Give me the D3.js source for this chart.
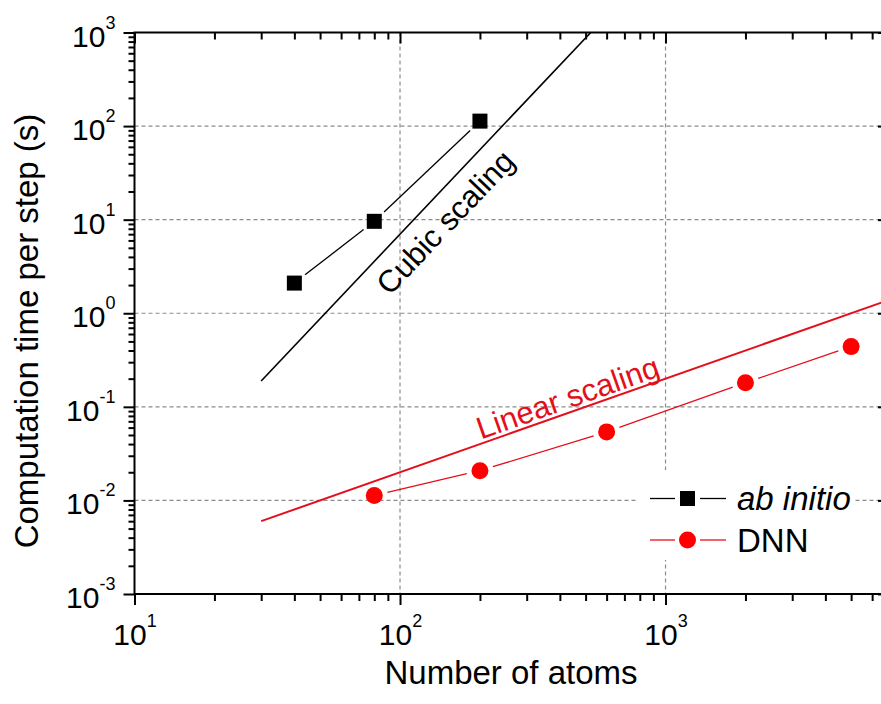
<!DOCTYPE html>
<html>
<head>
<meta charset="utf-8">
<script src="https://cdn.jsdelivr.net/npm/d3@7"></script>
<style>
  body { margin: 0; background: #fff; }
  svg { display: block; font-family: Arial, "Liberation Sans", sans-serif; }
</style>
</head>
<body>
<div id="chart"></div>
<script>
// data
var abInitioAtoms = [40, 80, 200];
var abInitioTime = [2.1, 9.6, 113];
var dnnAtoms = [80, 200, 600, 2000, 5000];
var dnnTime = [0.0113, 0.0208, 0.054, 0.181, 0.44];

// guide lines (end points)
var cubicAtoms = [30, 523];
var cubicTime = [0.189, 1000];
var linearAtoms = [30, 6650];
var linearTime = [0.006, 1.33];

var xMajor = [10, 100, 1000];
var yMajor = [1e-3, 1e-2, 1e-1, 1, 10, 100, 1000];

var width = 881, height = 704;
var plotLeft = 134.5, plotRight = 884, plotTop = 32.5, plotBottom = 594;

var svg = d3.select("#chart").append("svg")
    .attr("width", width)
    .attr("height", height);

var x = d3.scaleLog().domain([10, 6650]).range([plotLeft, plotRight]);
var y = d3.scaleLog().domain([1e-3, 1e3]).range([plotBottom, plotTop]);

var red = "#ff0000",
    redLine = "#e3101c",
    gridColor = "#8c8c8c";

// minor tick values
function minors(lo, hi) {
    var out = [];
    for (var d = lo; d < hi; d *= 10)
        for (var k = 2; k <= 9; k++)
            if (d * k < hi) out.push(d * k);
    return out;
}
var xMinor = minors(10, 6650);
var yMinor = minors(1e-3, 1e3);

// clip for plot area
svg.append("defs").append("clipPath").attr("id", "plotClip")
    .append("rect")
    .attr("x", plotLeft).attr("y", plotTop)
    .attr("width", plotRight - plotLeft).attr("height", plotBottom - plotTop);

// grid
var grid = svg.append("g");
grid.selectAll("line.gx")
    .data(xMajor.slice(1))
    .enter().append("line")
    .attr("x1", d => x(d)).attr("x2", d => x(d))
    .attr("y1", plotTop).attr("y2", plotBottom)
    .style("stroke", gridColor).style("stroke-width", 1.2)
    .style("stroke-dasharray", "4,3");
grid.selectAll("line.gy")
    .data(yMajor.slice(1, -1))
    .enter().append("line")
    .attr("x1", plotLeft).attr("x2", plotRight)
    .attr("y1", d => y(d)).attr("y2", d => y(d))
    .style("stroke", gridColor).style("stroke-width", 1.2)
    .style("stroke-dasharray", "4,3");

// legend background hides grid
svg.append("rect")
    .attr("x", 637).attr("y", 470)
    .attr("width", 218).attr("height", 90)
    .style("fill", "#fff");

// guide lines
var guide = svg.append("g").attr("clip-path", "url(#plotClip)");
var line = d3.line().x(d => x(d[0])).y(d => y(d[1]));

guide.append("path")
    .datum(d3.zip(cubicAtoms, cubicTime))
    .attr("d", line)
    .style("fill", "none").style("stroke", "#000").style("stroke-width", 1.6);

guide.append("path")
    .datum(d3.zip(linearAtoms, linearTime))
    .attr("d", line)
    .style("fill", "none").style("stroke", redLine).style("stroke-width", 2);

// guide labels, rotated along the line slope
function slopeAngle(xs, ys) {
    var dx = x(xs[1]) - x(xs[0]), dy = y(ys[1]) - y(ys[0]);
    return Math.atan2(dy, dx) * 180 / Math.PI;
}
var cubicLabelAt = [148, 9.4];
var linearLabelAt = [428, 0.126];

svg.append("text")
    .attr("transform", "translate(" + x(cubicLabelAt[0]) + "," + y(cubicLabelAt[1]) + ") rotate(" + slopeAngle(cubicAtoms, cubicTime) + ")")
    .attr("text-anchor", "middle")
    .attr("dy", "0.35em")
    .style("font-size", "31px")
    .style("fill", "#000")
    .text("Cubic scaling");

svg.append("text")
    .attr("transform", "translate(" + x(linearLabelAt[0]) + "," + y(linearLabelAt[1]) + ") rotate(" + slopeAngle(linearAtoms, linearTime) + ")")
    .attr("text-anchor", "middle")
    .attr("dy", "0.35em")
    .style("font-size", "31px")
    .style("fill", redLine)
    .text("Linear scaling");

// connecting lines with a gap round each marker
function gapSegments(g, xs, ys, color, gap) {
    for (var i = 0; i < xs.length - 1; i++) {
        var x1 = x(xs[i]), y1 = y(ys[i]), x2 = x(xs[i + 1]), y2 = y(ys[i + 1]);
        var len = Math.hypot(x2 - x1, y2 - y1), ux = (x2 - x1) / len, uy = (y2 - y1) / len;
        g.append("line")
            .attr("x1", x1 + ux * gap).attr("y1", y1 + uy * gap)
            .attr("x2", x2 - ux * gap).attr("y2", y2 - uy * gap)
            .style("stroke", color).style("stroke-width", 1.3);
    }
}
var series = svg.append("g");
gapSegments(series, abInitioAtoms, abInitioTime, "#000", 13.5);
gapSegments(series, dnnAtoms, dnnTime, redLine, 13.5);

var sq = 15;
series.selectAll("rect.ab")
    .data(d3.zip(abInitioAtoms, abInitioTime))
    .enter().append("rect")
    .attr("x", d => x(d[0]) - sq / 2)
    .attr("y", d => y(d[1]) - sq / 2)
    .attr("width", sq).attr("height", sq)
    .style("fill", "#000");

series.selectAll("circle.dnn")
    .data(d3.zip(dnnAtoms, dnnTime))
    .enter().append("circle")
    .attr("cx", d => x(d[0]))
    .attr("cy", d => y(d[1]))
    .attr("r", 8.5)
    .style("fill", red);

// axes
function styleAxis(g) {
    g.select(".domain").remove();
    g.selectAll(".tick line").style("stroke", "#000").style("stroke-width", 2);
}

svg.append("g").attr("transform", "translate(0," + plotBottom + ")")
    .call(d3.axisBottom(x).tickValues(xMinor).tickSize(7).tickFormat(""))
    .call(styleAxis);
svg.append("g").attr("transform", "translate(0," + plotTop + ")")
    .call(d3.axisBottom(x).tickValues(xMinor).tickSize(7).tickFormat(""))
    .call(styleAxis);
svg.append("g").attr("transform", "translate(0," + plotTop + ")")
    .call(d3.axisBottom(x).tickValues(xMajor).tickSize(11).tickFormat(""))
    .call(styleAxis);
svg.append("g").attr("transform", "translate(" + plotLeft + ",0)")
    .call(d3.axisLeft(y).tickValues(yMinor).tickSize(6).tickFormat(""))
    .call(styleAxis);
svg.append("g").attr("transform", "translate(" + plotRight + ",0)")
    .call(d3.axisLeft(y).tickValues(yMajor).tickSize(6).tickFormat(""))
    .call(styleAxis);

function supLabel(text, d) {
    var e = Math.round(Math.log10(d));
    text.text(null);
    text.append("tspan").text("10");
    text.append("tspan").attr("dy", -18).style("font-size", "18px").text(e);
}

var xAxis = svg.append("g").attr("transform", "translate(0," + plotBottom + ")")
    .call(d3.axisBottom(x).tickValues(xMajor).tickSize(11))
    .call(styleAxis);
xAxis.selectAll(".tick text")
    .attr("y", 51).attr("dy", null)
    .style("font-size", "30px").style("fill", "#000")
    .style("font-family", "Arial, 'Liberation Sans', sans-serif")
    .each(function (d) { supLabel(d3.select(this), d); });

var yAxis = svg.append("g").attr("transform", "translate(" + plotLeft + ",0)")
    .call(d3.axisLeft(y).tickValues(yMajor).tickSize(11))
    .call(styleAxis);
yAxis.selectAll(".tick text")
    .attr("x", -19).attr("dy", 13.5)
    .style("font-size", "30px").style("fill", "#000")
    .style("font-family", "Arial, 'Liberation Sans', sans-serif")
    .each(function (d) { supLabel(d3.select(this), d); });

// frame
svg.append("rect")
    .attr("x", plotLeft).attr("y", plotTop)
    .attr("width", plotRight - plotLeft).attr("height", plotBottom - plotTop)
    .style("fill", "none").style("stroke", "#000").style("stroke-width", 2);

// axis titles
svg.append("text")
    .attr("x", 511).attr("y", 684)
    .attr("text-anchor", "middle")
    .style("font-size", "33px")
    .text("Number of atoms");

svg.append("text")
    .attr("transform", "translate(38,331) rotate(-90)")
    .attr("text-anchor", "middle")
    .style("font-size", "33px")
    .text("Computation time per step (s)");

// legend
var legend = svg.append("g");
var legendRows = [
    { label: "ab initio", italic: true, color: "#000", lineColor: "#000", shape: "square", cy: 498.5 },
    { label: "DNN", italic: false, color: red, lineColor: redLine, shape: "circle", cy: 540 }
];
legendRows.forEach(function (r) {
    legend.append("line").attr("x1", 650).attr("x2", 675).attr("y1", r.cy).attr("y2", r.cy)
        .style("stroke", r.lineColor).style("stroke-width", 1.3);
    legend.append("line").attr("x1", 700).attr("x2", 726).attr("y1", r.cy).attr("y2", r.cy)
        .style("stroke", r.lineColor).style("stroke-width", 1.3);
    if (r.shape === "square")
        legend.append("rect").attr("x", 687.5 - sq / 2).attr("y", r.cy - sq / 2)
            .attr("width", sq).attr("height", sq).style("fill", r.color);
    else
        legend.append("circle").attr("cx", 687.5).attr("cy", r.cy).attr("r", 8.5).style("fill", r.color);
    legend.append("text")
        .attr("x", 737).attr("y", r.cy + 11.5)
        .style("font-size", "33px")
        .style("font-style", r.italic ? "italic" : "normal")
        .text(r.label);
});
</script>
</body>
</html>
